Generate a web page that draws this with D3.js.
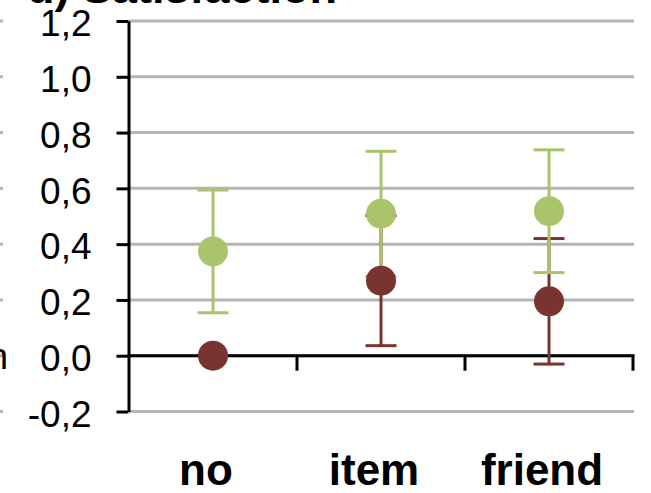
<!DOCTYPE html>
<html>
<head>
<meta charset="utf-8">
<script src="https://cdn.jsdelivr.net/npm/d3@7"></script>
<style>
  html, body { margin: 0; padding: 0; background: #fff; }
  svg { display: block; font-family: "Liberation Sans", Arial, sans-serif; }
</style>
</head>
<body>
<div id="chart"></div>
<script>
// chart values
const categories = ['no', 'item', 'friend'];
const yTicks = [-0.2, 0, 0.2, 0.4, 0.6, 0.8, 1.0, 1.2];
const greenMeans = [0.374, 0.509, 0.518];
const greenErrors = [0.22, 0.224, 0.22];
const redMeans = [0.0, 0.269, 0.195];
const redErrors = [0.0, 0.233, 0.225];
const titleText = 'd) Satisfaction';

const width = 651;
const height = 493;
const green = '#a9c46b';
const red = '#7a342f';
const grid = '#b4b4b4';

const svg = d3.select('#chart')
  .append('svg')
  .attr('width', width)
  .attr('height', height);

const x = d3.scaleBand()
  .domain(categories)
  .range([129, 633])
  .padding(0);

const y = d3.scaleLinear()
  .domain([-0.2, 1.2])
  .range([411.5, 21]);

// comma decimals and a plain hyphen for negatives
const locale = d3.formatLocale({ decimal: ',', thousands: '.', grouping: [3], currency: ['', ''], minus: '-' });
const fmt = locale.format('.1f');

// title, cut off at the top like the reference
svg.append('text')
  .attr('x', 27)
  .attr('y', 3)
  .attr('font-size', 45)
  .attr('font-weight', 'bold')
  .text(titleText);

// bits of the neighbouring chart at the left edge
svg.append('g')
  .selectAll('line')
  .data(yTicks)
  .enter()
  .append('line')
  .attr('x1', 0)
  .attr('x2', 3)
  .attr('y1', d => y(d))
  .attr('y2', d => y(d))
  .attr('stroke', grid)
  .attr('stroke-width', 3);

svg.append('text')
  .attr('x', 8)
  .attr('y', y(0) + 13)
  .attr('text-anchor', 'end')
  .attr('font-size', 37)
  .text('n');

// gridlines
svg.append('g')
  .selectAll('line')
  .data(yTicks)
  .enter()
  .append('line')
  .attr('x1', 129)
  .attr('x2', 634)
  .attr('y1', d => y(d))
  .attr('y2', d => y(d))
  .attr('stroke', grid)
  .attr('stroke-width', 3);

// x axis at zero
const xAxis = svg.append('g')
  .attr('transform', 'translate(0,' + y(0) + ')')
  .call(d3.axisBottom(x).tickSize(0).tickSizeOuter(0).tickFormat(''));
xAxis.select('.domain')
  .attr('stroke', '#000')
  .attr('stroke-width', 3)
  .attr('d', 'M127.5,0H634.5');

xAxis.selectAll('.boundary')
  .data(categories)
  .enter()
  .append('line')
  .attr('class', 'boundary')
  .attr('x1', d => x(d) + x.bandwidth())
  .attr('x2', d => x(d) + x.bandwidth())
  .attr('y1', 0)
  .attr('y2', 15)
  .attr('stroke', '#000')
  .attr('stroke-width', 3);

// category labels
svg.append('g')
  .selectAll('text')
  .data(categories)
  .enter()
  .append('text')
  .attr('x', d => x(d) + x.bandwidth() / 2 - 7)
  .attr('y', 485)
  .attr('text-anchor', 'middle')
  .attr('font-size', 44)
  .attr('font-weight', 'bold')
  .text(d => d);

// y axis
const yAxis = svg.append('g')
  .attr('transform', 'translate(128.5,0)')
  .call(d3.axisLeft(y).tickValues(yTicks).tickSize(12).tickSizeOuter(0).tickPadding(25).tickFormat(fmt));
yAxis.select('.domain').attr('stroke', '#000').attr('stroke-width', 3);
yAxis.selectAll('.tick line').attr('stroke', '#000').attr('stroke-width', 3);
yAxis.selectAll('.tick text')
  .attr('font-size', 37)
  .attr('dy', '0.4em')
  .attr('font-family', '"Liberation Sans", Arial, sans-serif')
  .attr('fill', '#000');

// error bars and points
function errorBars(means, errors, color) {
  const g = svg.append('g');
  const rows = means.map((m, i) => ({ c: categories[i], m: m, e: errors[i] }))
    .filter(d => d.e > 0);
  const cx = d => x(d.c) + x.bandwidth() / 2;
  g.selectAll('.stem')
    .data(rows)
    .enter()
    .append('line')
    .attr('x1', cx).attr('x2', cx)
    .attr('y1', d => y(d.m - d.e))
    .attr('y2', d => y(d.m + d.e))
    .attr('stroke', color)
    .attr('stroke-width', 3);
  [-1, 1].forEach(s => {
    g.selectAll('.cap' + s)
      .data(rows)
      .enter()
      .append('line')
      .attr('x1', d => cx(d) - 15.5)
      .attr('x2', d => cx(d) + 15.5)
      .attr('y1', d => y(d.m + s * d.e))
      .attr('y2', d => y(d.m + s * d.e))
      .attr('stroke', color)
      .attr('stroke-width', 3);
  });
}

function points(means, color) {
  svg.append('g')
    .selectAll('circle')
    .data(means)
    .enter()
    .append('circle')
    .attr('cx', (d, i) => x(categories[i]) + x.bandwidth() / 2)
    .attr('cy', d => y(d))
    .attr('r', 15)
    .attr('fill', color);
}

errorBars(redMeans, redErrors, red);
errorBars(greenMeans, greenErrors, green);
points(greenMeans, green);
points(redMeans, red);
</script>
</body>
</html>
